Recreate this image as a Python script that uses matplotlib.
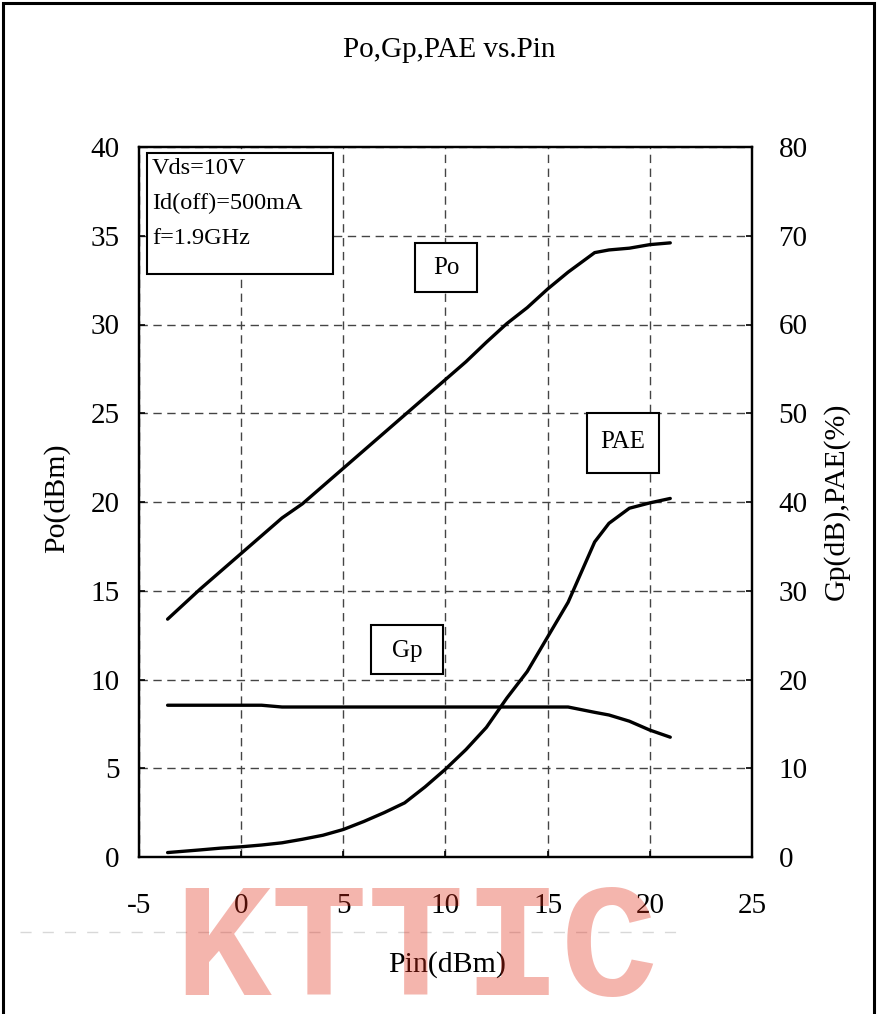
import matplotlib
matplotlib.use("Agg")
import matplotlib.pyplot as plt
from matplotlib.patches import Rectangle
from matplotlib.lines import Line2D

plt.rcParams['font.family'] = ['Liberation Serif', 'DejaVu Serif']
plt.rcParams['axes.unicode_minus'] = False

# ---- data ----
pin = [-3.6, -2, -1, 0, 1, 2, 3, 4, 5, 6, 7, 8, 9, 10, 11, 12, 13, 14, 15, 16, 17.3, 18, 19, 20, 21]
po = [13.4, 15.1, 16.1, 17.1, 18.1, 19.1, 19.9, 20.9, 21.9, 22.9, 23.9, 24.9, 25.9, 26.9,
      27.9, 29.0, 30.05, 30.95, 32.0, 32.95, 34.05, 34.2, 34.3, 34.5, 34.6]
gp = [17.1, 17.1, 17.1, 17.1, 17.1, 16.9, 16.9, 16.9, 16.9, 16.9, 16.9, 16.9, 16.9, 16.9,
      16.9, 16.9, 16.9, 16.9, 16.9, 16.9, 16.3, 16.0, 15.3, 14.3, 13.5]
pae = [0.5, 0.8, 1.0, 1.15, 1.35, 1.6, 2.0, 2.45, 3.1, 4.0, 5.0, 6.1, 7.9, 9.9,
       12.1, 14.6, 17.9, 20.9, 24.8, 28.7, 35.5, 37.6, 39.3, 39.9, 40.4]

xticks = [-5, 0, 5, 10, 15, 20, 25]
yticks_left = [0, 5, 10, 15, 20, 25, 30, 35, 40]
yticks_right = [0, 10, 20, 30, 40, 50, 60, 70, 80]

title = "Po,Gp,PAE vs.Pin"
xlabel = "Pin(dBm)"
ylabel_left = "Po(dBm)"
ylabel_right = "Gp(dB),PAE(%)"
cond_lines = ["Vds=10V", "Id(off)=500mA", "f=1.9GHz"]

W, H = 887, 1014
fig = plt.figure(figsize=(W / 100, H / 100), dpi=100)

L, R, T, B = 139, 752, 147, 857
ax = fig.add_axes([L / W, 1 - B / H, (R - L) / W, (B - T) / H])
ax2 = ax.twinx()

ax.set_xlim(-5, 25)
ax.set_ylim(0, 40)
ax2.set_ylim(0, 80)
ax.set_xticks(xticks)
ax.set_yticks(yticks_left)
ax2.set_yticks(yticks_right)

ax.grid(True, color='#444444', linestyle=(0, (6, 4)), linewidth=1.0)
ax.set_axisbelow(True)

lw = 2.4
ax.plot(pin, po, color='black', lw=lw, solid_capstyle='round', solid_joinstyle='round', zorder=3)
ax2.plot(pin, gp, color='black', lw=lw, solid_capstyle='round', solid_joinstyle='round', zorder=3)
ax2.plot(pin, pae, color='black', lw=lw, solid_capstyle='round', solid_joinstyle='round', zorder=3)

fs = 21
lfs = 21.5
for a in (ax, ax2):
    for s in a.spines.values():
        s.set_linewidth(1.6)
ax.tick_params(axis='x', direction='in', length=4, width=1.2, labelsize=fs, pad=26)
ax.tick_params(axis='y', direction='in', length=4, width=1.2, labelsize=fs, pad=14)
ax2.tick_params(axis='y', direction='in', length=4, width=1.2, labelsize=fs, pad=19)

ax.set_xlabel(xlabel, fontsize=lfs)
ax.xaxis.set_label_coords((447 - L) / (R - L), -(965 - B) / (B - T))
ax.xaxis.label.set_va('center')
ax.set_ylabel(ylabel_left, fontsize=lfs)
ax.yaxis.set_label_coords((57 - L) / (R - L), (B - 498) / (B - T))
ax.yaxis.label.set_va('center')
ax2.set_ylabel(ylabel_right, fontsize=lfs)
ax2.yaxis.set_label_coords((836 - L) / (R - L), (B - 501) / (B - T))
ax2.yaxis.label.set_va('center')

fig.text(449 / W, 1 - 50 / H, title, ha='center', va='center', fontsize=21)

# boxes (figure pixel coords)
def fbox(x0, y0, x1, y1):
    fig.patches.append(Rectangle((x0 / W, 1 - y1 / H), (x1 - x0) / W, (y1 - y0) / H,
                                 transform=fig.transFigure, fill=True, facecolor='white',
                                 edgecolor='black', linewidth=1.5, zorder=5))

fbox(147, 153, 333, 274)
for i, t in enumerate(cond_lines):
    fig.text(152 / W, 1 - (168 + 35 * i) / H, t, ha='left', va='center', fontsize=17.5, zorder=6)

fbox(415, 243, 477, 292)
fig.text(446 / W, 1 - 268 / H, "Po", ha='center', va='center', fontsize=18, zorder=6)
fbox(587, 413, 659, 473)
fig.text(623 / W, 1 - 442 / H, "PAE", ha='center', va='center', fontsize=18, zorder=6)
fbox(371, 625, 443, 674)
fig.text(407 / W, 1 - 651 / H, "Gp", ha='center', va='center', fontsize=18, zorder=6)

# outer frame
fig.patches.append(Rectangle((3 / W, -0.05), (874 - 3) / W, 1.05 - 3 / H, transform=fig.transFigure,
                             fill=False, edgecolor='black', linewidth=2.2, zorder=1))

# watermark
fig.lines.append(Line2D([20 / W, 680 / W], [1 - 932 / H, 1 - 932 / H], transform=fig.transFigure,
                        color='#d8d8d8', linestyle=(0, (8, 8)), linewidth=1.0))
fig.text(416 / W, 1 - 953 / H, "KTTIC", ha='center', va='center', fontsize=116,
         family=['Liberation Mono', 'DejaVu Sans Mono'], fontweight='bold',
         color=(226 / 255, 43 / 255, 21 / 255), alpha=0.35, zorder=20)

fig.savefig("out.png", dpi=100)
